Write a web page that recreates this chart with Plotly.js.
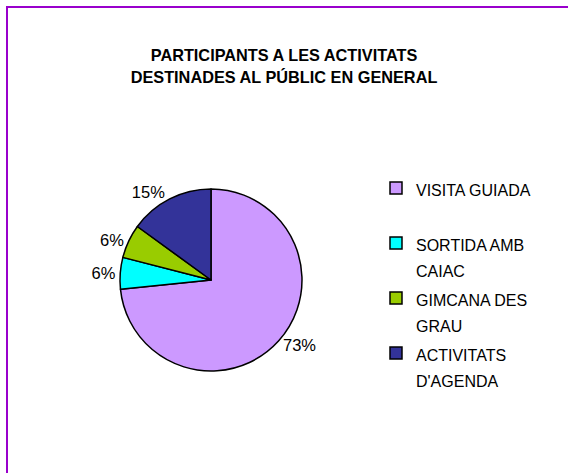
<!DOCTYPE html>
<html>
<head>
<meta charset="utf-8">
<script src="https://cdn.plot.ly/plotly-3.0.1.min.js"></script>
<style>
  html, body { margin: 0; padding: 0; background: #ffffff; }
  #chart { width: 568px; height: 473px; }
</style>
</head>
<body>
<div id="chart"></div>
<script>
// Data
var categories = ["VISITA GUIADA", "SORTIDA AMB CAIAC", "GIMCANA DES GRAU", "ACTIVITATS D'AGENDA"];
var legendLabels = [["VISITA GUIADA", "\u00a0"], ["SORTIDA AMB", "CAIAC"], ["GIMCANA DES", "GRAU"], ["ACTIVITATS", "D'AGENDA"]];
var values = [73.4, 5.6, 6.0, 15.0];
var colors = ["#CC99FF", "#00FFFF", "#99CC00", "#333399"];
var titleLines = ["PARTICIPANTS A LES ACTIVITATS", "DESTINADES AL PÚBLIC EN GENERAL"];

var FONT = "Arial, 'Liberation Sans', sans-serif";

function spanLines(lines, size) {
  return lines.map(function (s) {
    return '<span style="font-size:' + size + 'px">' + s + '</span>';
  }).join('<br>');
}

var trace = {
  type: 'pie',
  labels: legendLabels.map(function (l) { return spanLines(l, 16); }),
  values: values,
  sort: false,
  direction: 'clockwise',
  rotation: 0,
  marker: { colors: colors, line: { color: '#000000', width: 1.5 } },
  textposition: 'outside',
  texttemplate: '%{percent:.0%}',
  textfont: { family: FONT, size: 16.5, color: '#000000' },
  hoverinfo: 'label+percent',
  domain: { x: [120 / 568, 302 / 568], y: [102 / 473, 284 / 473] },
  automargin: false
};

var layout = {
  width: 568,
  height: 473,
  margin: { l: 0, r: 0, t: 0, b: 0, pad: 0 },
  paper_bgcolor: '#ffffff',
  plot_bgcolor: '#ffffff',
  font: { family: FONT, color: '#000000' },
  title: {
    text: spanLines(titleLines, 16.3),
    font: { family: FONT, size: 17, color: '#000000', weight: 'bold' },
    x: 0.5,
    xref: 'container',
    xanchor: 'center',
    y: 1 - 61 / 473,
    yref: 'container',
    yanchor: 'top'
  },
  showlegend: true,
  legend: {
    x: 376 / 568,
    xanchor: 'left',
    y: (473 - 168.5) / 473,
    yanchor: 'top',
    valign: 'top',
    font: { family: FONT, size: 20, color: '#000000' },
    bgcolor: 'rgba(0,0,0,0)',
    borderwidth: 0,
    traceorder: 'normal'
  },
  shapes: [{
    type: 'rect',
    xref: 'paper', yref: 'paper',
    x0: 7 / 568, x1: 1.05,
    y0: -0.05, y1: 1 - 7 / 473,
    line: { color: '#9900CC', width: 2 },
    fillcolor: 'rgba(0,0,0,0)',
    layer: 'above'
  }]
};

Plotly.newPlot('chart', [trace], layout, { displayModeBar: false, responsive: false });
</script>
</body>
</html>
